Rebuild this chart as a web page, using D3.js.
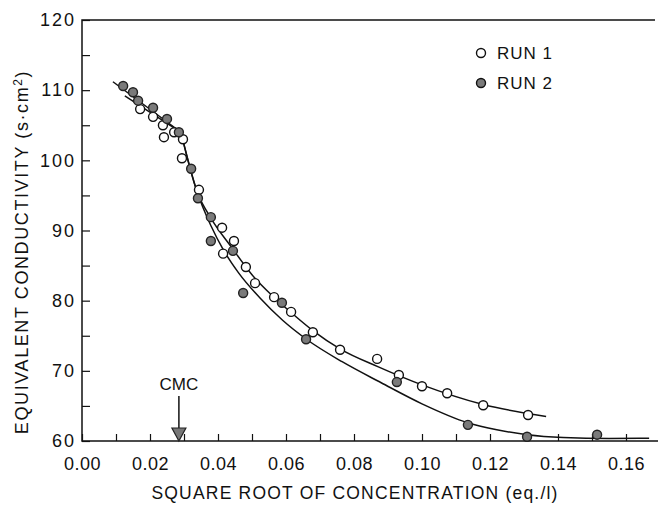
<!DOCTYPE html>
<html>
<head>
<meta charset="utf-8">
<script src="https://cdn.jsdelivr.net/npm/d3@7"></script>
<style>
  body { margin: 0; background: #fff; }
  svg { display: block; }
  text { font-family: "Liberation Sans", Arial, sans-serif; fill: #111; }
</style>
</head>
<body>
<div id="chart"></div>
<script>
// values
var run1 = [
  [0.0171,107.3],[0.0209,106.2],[0.0238,105.0],[0.0241,103.3],[0.0271,104.0],
  [0.0297,103.0],[0.0294,100.3],[0.0344,95.8],[0.0412,90.4],[0.0447,88.5],
  [0.0415,86.7],[0.0482,84.8],[0.0509,82.5],[0.0565,80.5],[0.0615,78.4],
  [0.0679,75.5],[0.0759,73.0],[0.0868,71.7],[0.0932,69.4],[0.1000,67.8],
  [0.1074,66.8],[0.1180,65.1],[0.1312,63.7]
];
var run2 = [
  [0.0121,110.6],[0.0150,109.7],[0.0165,108.5],[0.0209,107.5],[0.0250,105.9],
  [0.0285,104.0],[0.0321,98.8],[0.0341,94.6],[0.0379,91.9],[0.0379,88.5],
  [0.0444,87.1],[0.0474,81.1],[0.0588,79.7],[0.0659,74.5],[0.0926,68.4],
  [0.1135,62.3],[0.1309,60.6],[0.1515,60.9]
];
// fitted lines: straight part below the CMC, curve above it
var fit1Pre = [[0.0126,109.2],[0.0291,104.0]];
var fit2Pre = [[0.0091,111.2],[0.0291,104.0]];
var fit1Post = [
  [0.0291,104.0],[0.0338,95.6],[0.0380,91.7],[0.0440,87.6],[0.0500,83.7],
  [0.0560,80.7],[0.0620,78.1],[0.0680,75.7],[0.0760,73.1],[0.0870,70.6],
  [0.1000,68.0],[0.1180,65.2],[0.1365,63.5]
];
var fit2Post = [
  [0.0291,104.0],[0.0338,95.6],[0.0380,90.6],[0.0415,87.3],[0.0460,84.0],
  [0.0525,80.3],[0.0590,77.2],[0.0660,74.5],[0.0765,71.3],[0.0880,68.3],
  [0.1000,65.3],[0.1135,62.6],[0.1220,61.6],[0.1310,60.9],[0.1415,60.5],
  [0.1550,60.35],[0.1668,60.4]
];
var cmc = 0.0285;
var xTicks = d3.range(0, 0.1601, 0.01);
var yTicks = d3.range(60, 121, 5);
var legend = [{label: "RUN 1", filled: false}, {label: "RUN 2", filled: true}];

var width = 658, height = 511;

var svg = d3.select("#chart").append("svg")
  .attr("width", width)
  .attr("height", height);

var x = d3.scaleLinear().domain([0, 0.16]).range([82, 626]);
var y = d3.scaleLinear().domain([60, 120]).range([441, 20]);

// frame: left, top, bottom
svg.append("path")
  .attr("d", "M655,20H82V441H658")
  .attr("fill", "none")
  .attr("stroke", "#111")
  .attr("stroke-width", 1.5);

var yAxis = svg.append("g")
  .attr("transform", "translate(82,0)")
  .call(d3.axisLeft(y).tickValues(yTicks).tickSize(-8).tickPadding(6)
    .tickFormat(function(d) { return d % 10 === 0 ? d : ""; }));
yAxis.select(".domain").remove();
yAxis.selectAll("line").attr("stroke", "#111").attr("stroke-width", 1.2);
yAxis.selectAll("text").style("font-size", "18px").style("letter-spacing", "2px").attr("fill", "#111");

var xAxis = svg.append("g")
  .attr("transform", "translate(0,441)")
  .call(d3.axisBottom(x).tickValues(xTicks).tickSize(-7).tickPadding(16)
    .tickFormat(function(d, i) { return i % 2 === 0 ? d3.format(".2f")(d) : ""; }));
xAxis.select(".domain").remove();
xAxis.selectAll("line").attr("stroke", "#111").attr("stroke-width", 1.2);
xAxis.selectAll("text").style("font-size", "18px").style("letter-spacing", "0.5px").attr("fill", "#111");

svg.append("text")
  .attr("x", 355).attr("y", 499)
  .attr("text-anchor", "middle")
  .style("font-size", "17.5px")
  .style("letter-spacing", "1.2px")
  .text("SQUARE ROOT OF CONCENTRATION (eq./l)");

svg.append("text")
  .attr("transform", "translate(28,252) rotate(-90)")
  .attr("text-anchor", "middle")
  .style("font-size", "18px")
  .style("letter-spacing", "1.6px")
  .text("EQUIVALENT CONDUCTIVITY (s\u00b7cm")
  .append("tspan").attr("dy", -6).style("font-size", "12px").text("2")
  .select(function() { return this.parentNode; })
  .append("tspan").attr("dy", 6).text(")");

var line = d3.line().x(function(d) { return x(d[0]); }).y(function(d) { return y(d[1]); });
var curve = d3.line().curve(d3.curveMonotoneX)
  .x(function(d) { return x(d[0]); }).y(function(d) { return y(d[1]); });

[fit1Pre, fit2Pre].forEach(function(d) {
  svg.append("path").attr("d", line(d))
    .attr("fill", "none").attr("stroke", "#111").attr("stroke-width", 1.5);
});
[fit1Post, fit2Post].forEach(function(d) {
  svg.append("path").attr("d", curve(d))
    .attr("fill", "none").attr("stroke", "#111").attr("stroke-width", 1.5);
});

svg.append("g").selectAll("circle").data(run1).enter().append("circle")
  .attr("cx", function(d) { return x(d[0]); })
  .attr("cy", function(d) { return y(d[1]); })
  .attr("r", 4.5)
  .attr("fill", "#fff").attr("stroke", "#111").attr("stroke-width", 1.4);

svg.append("g").selectAll("circle").data(run2).enter().append("circle")
  .attr("cx", function(d) { return x(d[0]); })
  .attr("cy", function(d) { return y(d[1]); })
  .attr("r", 4.5)
  .attr("fill", "#7a7a7a").attr("stroke", "#222").attr("stroke-width", 1.4);

// CMC marker
var cx = x(cmc);
svg.append("text")
  .attr("x", cx).attr("y", 390)
  .attr("text-anchor", "middle")
  .style("font-size", "17px")
  .text("CMC");
svg.append("line")
  .attr("x1", cx).attr("x2", cx).attr("y1", 396).attr("y2", 430)
  .attr("stroke", "#111").attr("stroke-width", 1.5);
svg.append("path")
  .attr("d", "M" + (cx - 7) + ",428L" + (cx + 7) + ",428L" + cx + ",441Z")
  .attr("fill", "#777").attr("stroke", "#222").attr("stroke-width", 1.2);

// legend
var lg = svg.append("g").selectAll("g").data(legend).enter().append("g")
  .attr("transform", function(d, i) { return "translate(481," + (53 + i * 30) + ")"; });
lg.append("circle").attr("r", 4.5)
  .attr("fill", function(d) { return d.filled ? "#7a7a7a" : "#fff"; })
  .attr("stroke", "#111").attr("stroke-width", 1.4);
lg.append("text").attr("x", 16).attr("y", 6)
  .style("font-size", "17px")
  .style("letter-spacing", "1px")
  .text(function(d) { return d.label; });
</script>
</body>
</html>
